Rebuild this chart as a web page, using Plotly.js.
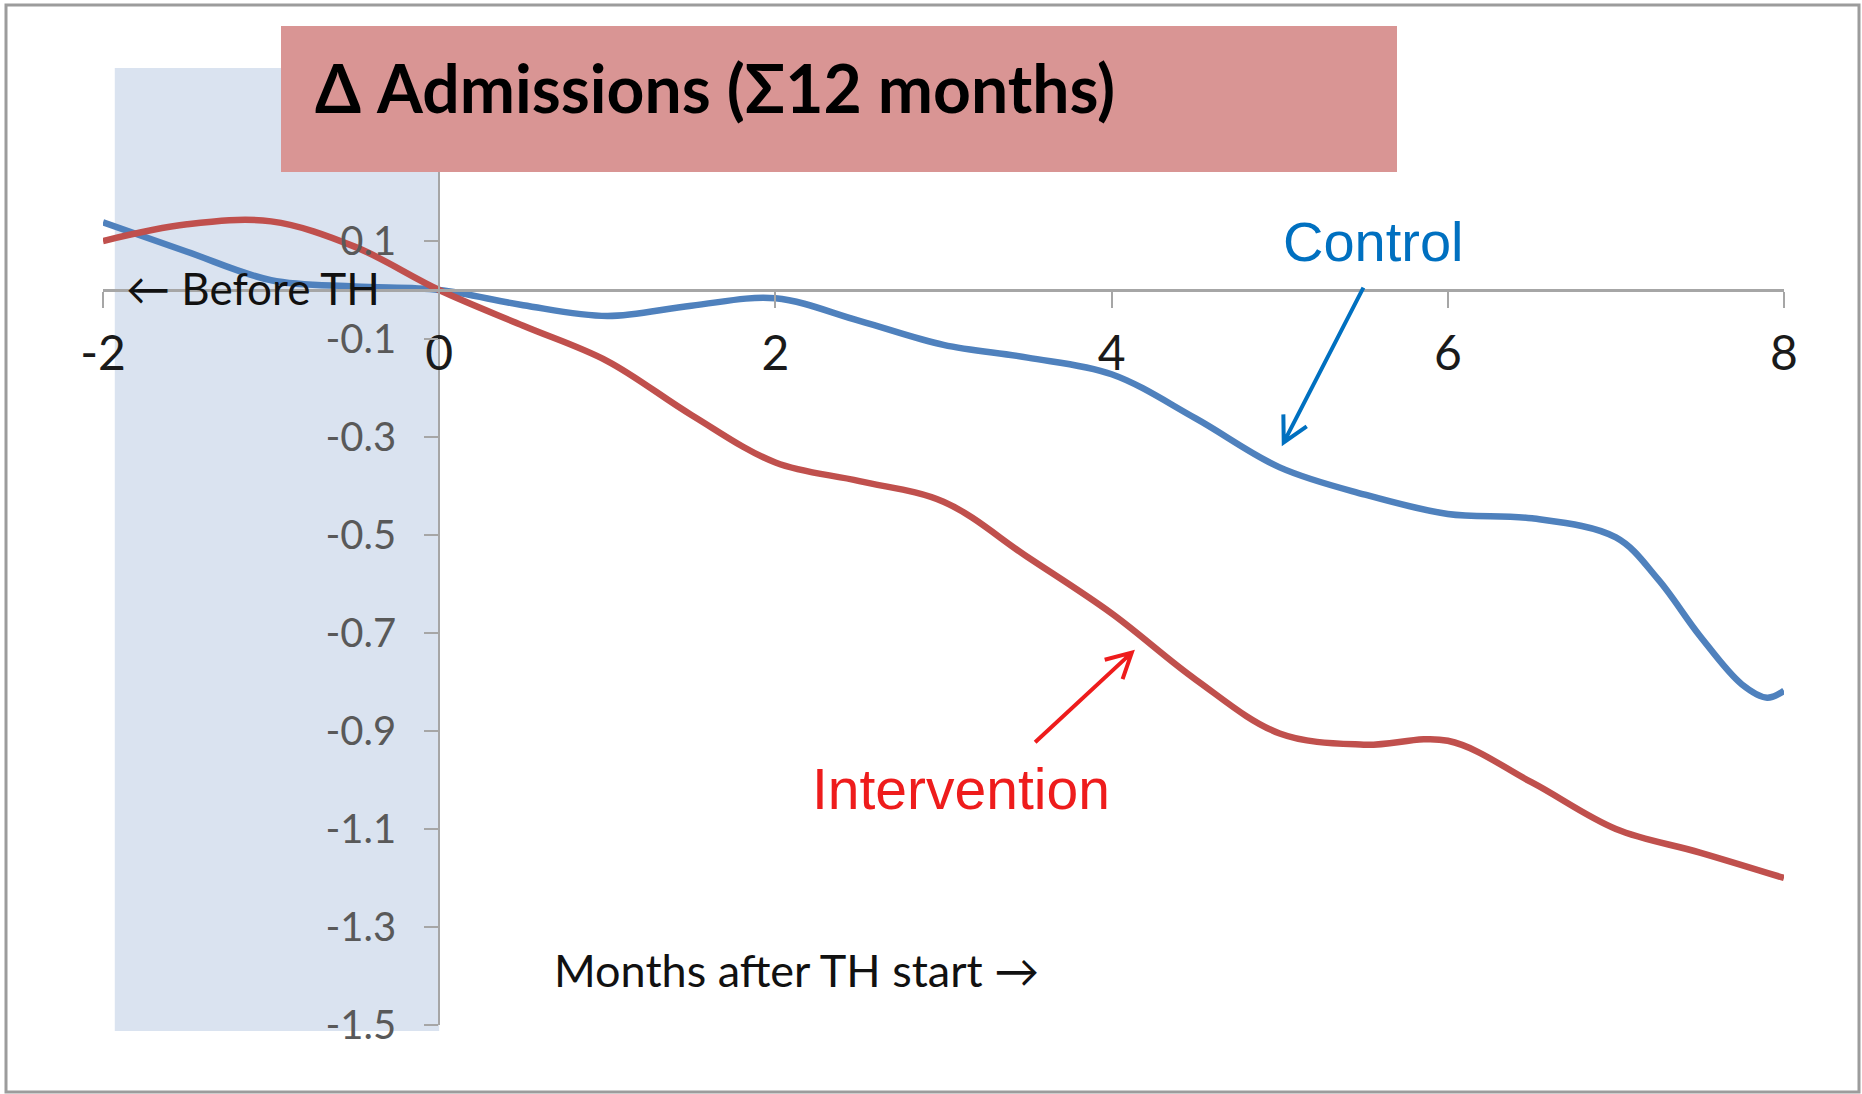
<!DOCTYPE html>
<html>
<head>
<meta charset="utf-8">
<script src="https://cdn.plot.ly/plotly-3.0.1.min.js"></script>
<style>
html,body{margin:0;padding:0;background:#fff;}
#chart{width:1862px;height:1094px;}
</style>
</head>
<body>
<div id="chart"></div>
<script>
// ---- data ----
const monthsControl = [-2, -1.5, -1, -0.5, 0, 0.5, 1, 1.5, 2, 2.5, 3, 3.5, 4, 4.5, 5, 5.5, 6, 6.5, 7, 7.25, 7.5, 7.75, 7.9, 8];
const control = [0.138, 0.078, 0.02, 0.007, 0, -0.031, -0.053, -0.032, -0.017, -0.063, -0.112, -0.138, -0.172, -0.262, -0.362, -0.417, -0.457, -0.466, -0.505, -0.59, -0.706, -0.805, -0.832, -0.818];
const monthsIntervention = [-2, -1.5, -1, -0.5, 0, 0.5, 1, 1.5, 2, 2.5, 3, 3.5, 4, 4.5, 5, 5.5, 6, 6.5, 7, 7.5, 8];
const intervention = [0.10, 0.134, 0.14, 0.088, 0, -0.073, -0.145, -0.255, -0.352, -0.39, -0.432, -0.545, -0.66, -0.795, -0.905, -0.928, -0.92, -1.005, -1.10, -1.148, -1.20];

const xTickVals = [-2, 0, 2, 4, 6, 8];
const xTickText = ['-2', '0', '2', '4', '6', '8'];
const yTickVals = [0.1, -0.1, -0.3, -0.5, -0.7, -0.9, -1.1, -1.3, -1.5];
const yTickText = ['0.1', '-0.1', '-0.3', '-0.5', '-0.7', '-0.9', '-1.1', '-1.3', '-1.5'];

const xRange = [-2, 8];
const yRange = [-1.5, 0.3];

const titleText = '<b>\u0394 Admissions (\u03A312 months)</b>';
const beforeText = '\u2190 Before TH';
const afterText = 'Months after TH start \u2192';
const controlLabel = 'Control';
const interventionLabel = 'Intervention';

// ---- layout geometry ----
const W = 1862, H = 1094;
const M = {l: 103, r: 78, t: 143, b: 69, pad: 0};
const PW = W - M.l - M.r, PH = H - M.t - M.b;
const px = x => (x - M.l) / PW;
const py = y => (H - M.b - y) / PH;
const toPx = (x, y) => [M.l + (x - xRange[0]) / (xRange[1] - xRange[0]) * PW,
                        M.t + (yRange[1] - y) / (yRange[1] - yRange[0]) * PH];

// open "V" arrow drawn as a path in paper coordinates
function arrowShape(tailData, tipData, color) {
  const t = toPx(tailData[0], tailData[1]);
  const p = toPx(tipData[0], tipData[1]);
  const ang = Math.atan2(t[1] - p[1], t[0] - p[0]);
  const len = 28, spread = 28 * Math.PI / 180;
  const a1 = [p[0] + len * Math.cos(ang + spread), p[1] + len * Math.sin(ang + spread)];
  const a2 = [p[0] + len * Math.cos(ang - spread), p[1] + len * Math.sin(ang - spread)];
  const P = q => px(q[0]).toFixed(5) + ',' + py(q[1]).toFixed(5);
  return {type: 'path', xref: 'paper', yref: 'paper', layer: 'above',
          path: 'M' + P(t) + ' L' + P(p) + ' M' + P(a1) + ' L' + P(p) + ' L' + P(a2),
          line: {color: color, width: 4}};
}

const blue = '#4F81BD';
const red = '#C0504D';
const axisGray = '#A6A6A6';

const traces = [
  {x: monthsControl, y: control, name: controlLabel, mode: 'lines',
   line: {color: blue, width: 6.5, shape: 'spline', smoothing: 1}},
  {x: monthsIntervention, y: intervention, name: interventionLabel, mode: 'lines',
   line: {color: red, width: 6.5, shape: 'spline', smoothing: 1}}
];

const layout = {
  width: W, height: H,
  margin: M,
  paper_bgcolor: '#ffffff',
  plot_bgcolor: 'rgba(0,0,0,0)',
  showlegend: false,
  xaxis: {
    range: xRange, anchor: 'free',
    position: (0 - yRange[0]) / (yRange[1] - yRange[0]),
    showline: true, linecolor: axisGray, linewidth: 2.5,
    showgrid: false, zeroline: false,
    tickmode: 'array', tickvals: xTickVals, ticktext: xTickText,
    ticks: 'outside', ticklen: 16, tickwidth: 2, tickcolor: axisGray,
    ticklabelstandoff: 5,
    tickfont: {family: 'Lato', size: 48, color: '#1a1a1a'}
  },
  yaxis: {
    range: yRange, anchor: 'free',
    position: (0 - xRange[0]) / (xRange[1] - xRange[0]),
    showline: true, linecolor: axisGray, linewidth: 2,
    showgrid: false, zeroline: false,
    tickmode: 'array', tickvals: yTickVals, ticktext: yTickText,
    ticks: 'outside', ticklen: 14, tickwidth: 2, tickcolor: axisGray,
    ticklabelstandoff: 20,
    tickfont: {family: 'Lato', size: 40, color: '#595959'}
  },
  shapes: [
    {type: 'rect', xref: 'paper', yref: 'paper', x0: px(6), x1: px(1859), y0: py(1092), y1: py(5),
     line: {color: '#9c9c9c', width: 3}, fillcolor: 'rgba(0,0,0,0)', layer: 'below'},
    {type: 'rect', xref: 'x', yref: 'paper', x0: -1.93, x1: 0, y0: py(1031), y1: py(68),
     fillcolor: '#DAE3F0', line: {width: 0}, layer: 'below'},
    {type: 'rect', xref: 'paper', yref: 'paper', x0: px(281), x1: px(1397), y0: py(172), y1: py(26),
     fillcolor: '#D99594', line: {width: 0}, layer: 'above'},
    arrowShape([5.498, 0.005], [5.024, -0.311], '#0070C0'),
    arrowShape([3.545, -0.923], [4.12, -0.74], '#EE1C1C')
  ],
  annotations: [
    {xref: 'paper', yref: 'paper', x: px(313), y: py(88), xanchor: 'left', yanchor: 'middle',
     text: titleText, showarrow: false, font: {family: 'Lato', size: 66, color: '#000'}},
    {xref: 'x', yref: 'y', x: -1.109, y: 0.004, xanchor: 'center', yanchor: 'middle',
     text: beforeText, showarrow: false, font: {family: 'Lato', size: 44, color: '#111'}},
    {xref: 'x', yref: 'y', x: 2.123, y: -1.388, xanchor: 'center', yanchor: 'middle',
     text: afterText, showarrow: false, font: {family: 'Lato', size: 45, color: '#111'}},
    {xref: 'x', yref: 'y', x: 5.557, y: 0.098, xanchor: 'center', yanchor: 'middle',
     text: controlLabel, showarrow: false, font: {family: 'Liberation Sans', size: 56, color: '#0070C0'}},
    {xref: 'x', yref: 'y', x: 3.105, y: -1.019, xanchor: 'center', yanchor: 'middle',
     text: interventionLabel, showarrow: false, font: {family: 'Liberation Sans', size: 57, color: '#EE1C1C'}}
  ]
};

Plotly.newPlot('chart', traces, layout, {displayModeBar: false, staticPlot: true});
</script>
</body>
</html>
